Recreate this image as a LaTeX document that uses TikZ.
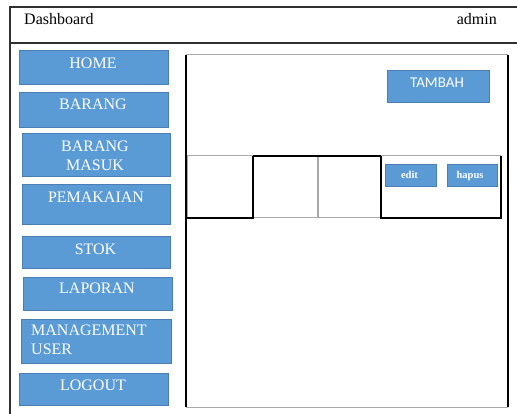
\documentclass[tikz,border=0pt]{standalone}
\usepackage{fontspec}
\setmainfont{Liberation Serif}
\newfontfamily\calib{Carlito}
\definecolor{btnblue}{HTML}{5B9BD5}
\definecolor{btnedge}{HTML}{4A7EB5}
\definecolor{frameline}{HTML}{303030}
\definecolor{softline}{HTML}{A8A8A8}
\begin{document}
\begin{tikzpicture}[x=1pt,y=-1pt,
  box/.style={rectangle, anchor=north west, inner sep=0pt, outer sep=0pt},
  btn/.style={box, fill=btnblue, draw=btnedge, line width=0.6pt},
  menutxt/.style={text=white, font=\fontsize{16}{19}\selectfont, inner sep=0pt, align=center},
  smalltxt/.style={text=white, font=\bfseries\fontsize{10.5}{12}\selectfont, inner sep=0pt, anchor=base},
  headtxt/.style={font=\fontsize{16}{19}\selectfont, inner sep=0pt, anchor=base},
  frame/.style={draw=frameline, line width=1.5pt},
  darkedge/.style={draw=black, line width=1.3pt},
  lightedge/.style={draw=softline, line width=1pt}]
\useasboundingbox (0,0) rectangle (517,414);
\fill[white] (0,0) rectangle (517,414);

% outer frame (clipped at right and bottom)
\coordinate (ftl) at (10,7);
\coordinate (ftr) at (517,7);
\coordinate (fhl) at (10,43);
\coordinate (fhr) at (517,43);
\coordinate (fbl) at (10,414);
\draw[frame] (ftr) -- (ftl) -- (fbl);
\draw[frame] (fhl) -- (fhr);
\node[headtxt, anchor=base west] (dash) at (24,25) {Dashboard};
\node[headtxt, anchor=base east] (admin) at (497,25) {admin};

% menu buttons
\node[btn, minimum width=149pt, minimum height=34pt] (home) at (19,50) {};
\node[menutxt] (homet) at (93,63) {HOME};
\node[btn, minimum width=149pt, minimum height=35pt] (barang) at (19,92) {};
\node[menutxt] (barangt) at (93,104) {BARANG};
\node[btn, minimum width=148pt, minimum height=43pt] (masuk) at (22,133) {};
\node[menutxt] (masukt) at (95,155.5) {BARANG\\MASUK};
\node[btn, minimum width=148pt, minimum height=40pt] (pakai) at (22,184) {};
\node[menutxt] (pakait) at (96,197) {PEMAKAIAN};
\node[btn, minimum width=148pt, minimum height=32pt] (stok) at (22,236) {};
\node[menutxt] (stokt) at (95.5,249) {STOK};
\node[btn, minimum width=149pt, minimum height=33pt] (lapor) at (23,277) {};
\node[menutxt] (laport) at (97,288) {LAPORAN};
\node[btn, minimum width=150pt, minimum height=44pt] (manage) at (21,319) {};
\node[menutxt, align=left, anchor=west] (managet) at (31,339.5) {MANAGEMENT\\USER};
\node[btn, minimum width=149pt, minimum height=32pt] (logout) at (19,373) {};
\node[menutxt] (logoutt) at (93,385) {LOGOUT};

% content panel
\node[box, minimum width=322pt, minimum height=352pt] (panel) at (186,55) {};
\draw[lightedge] (panel.north west) -- (panel.north east);
\draw[lightedge] (panel.south west) -- (panel.south east);
\draw[darkedge] (panel.north west) -- (panel.south west);
\draw[darkedge] (panel.north east) -- (panel.south east);

\node[btn, minimum width=102pt, minimum height=32pt] (tambah) at (387,70) {};
\node[text=white, font=\calib\fontsize{15}{18}\selectfont, inner sep=0pt] (tambaht) at (437,83) {TAMBAH};

% table cells
\node[box, minimum width=66pt, minimum height=62pt] (c1) at (187,156) {};
\node[box, minimum width=64pt, minimum height=62pt] (c2) at (253.5,156) {};
\node[box, minimum width=63pt, minimum height=62pt] (c3) at (318,156) {};
\node[box, minimum width=120pt, minimum height=62pt] (c4) at (381,156) {};
\draw[lightedge] (c1.south west) -- (c1.north west) -- (c1.north east);
\draw[darkedge] (c1.north east) -- (c1.south east) -- (c1.south west);
\draw[lightedge] (c2.north east) -- (c2.south east) -- (c2.south west);
\draw[darkedge] (c2.south west) -- (c2.north west) -- (c2.north east);
\draw[lightedge] (c3.north west) -- (c3.south west) -- (c3.south east);
\draw[darkedge] (c3.north west) -- (c3.north east) -- (c3.south east);
\draw[lightedge] (c4.north west) -- (c4.north east);
\draw[darkedge] (c4.north east) -- (c4.south east) -- (c4.south west) -- (c4.north west);

\node[btn, minimum width=51pt, minimum height=22pt] (edit) at (385,164) {};
\node[smalltxt] (editt) at (409.5,179) {edit};
\node[btn, minimum width=50pt, minimum height=22pt] (hapus) at (447,164) {};
\node[smalltxt] (hapust) at (470,179) {hapus};
\end{tikzpicture}
\end{document}
